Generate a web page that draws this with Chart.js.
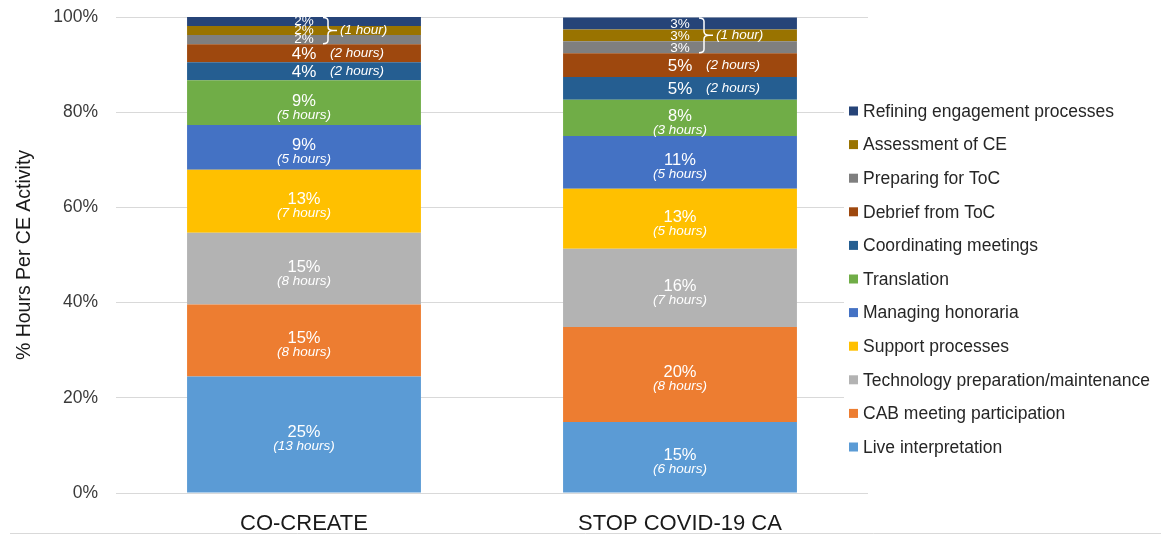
<!DOCTYPE html>
<html>
<head>
<meta charset="utf-8">
<script src="https://cdn.jsdelivr.net/npm/chart.js@4.4.1/dist/chart.umd.min.js"></script>
<style>
  html, body { margin: 0; padding: 0; background: #fff; }
  #wrap { width: 1171px; height: 542px; }
</style>
</head>
<body>
<div id="wrap"><canvas id="ce-chart" width="1171" height="542"></canvas></div>
<script>
// categories on the x axis
const categories = ['CO-CREATE', 'STOP COVID-19 CA'];

// activities, bottom of the stack first
const activities = [
  'Live interpretation',
  'CAB meeting participation',
  'Technology preparation/maintenance',
  'Support processes',
  'Managing honoraria',
  'Translation',
  'Coordinating meetings',
  'Debrief from ToC',
  'Preparing for ToC',
  'Assessment of CE',
  'Refining engagement processes'
];

// share of hours (%)
const coCreateShare = [24.5, 15.1, 15.1, 13.2, 9.4, 9.4, 3.8, 3.8, 1.9, 1.9, 1.9];
const stopCovidShare = [14.9, 20.0, 16.4, 12.6, 11.1, 7.6, 4.8, 5.0, 2.5, 2.5, 2.5];

// printed labels
const coCreateLabels = ['25%', '15%', '15%', '13%', '9%', '9%', '4%', '4%', '2%', '2%', '2%'];
const stopCovidLabels = ['15%', '20%', '16%', '13%', '11%', '8%', '5%', '5%', '3%', '3%', '3%'];
const coCreateHours = ['13 hours', '8 hours', '8 hours', '7 hours', '5 hours', '5 hours', '2 hours', '2 hours', '1 hour', '1 hour', '1 hour'];
const stopCovidHours = ['6 hours', '8 hours', '7 hours', '5 hours', '5 hours', '3 hours', '2 hours', '2 hours', '1 hour', '1 hour', '1 hour'];

const yTicks = [0, 20, 40, 60, 80, 100];

const colors = ['#5B9BD5', '#ED7D31', '#B3B3B3', '#FFC000', '#4472C4', '#70AD47',
                '#255E91', '#9E480E', '#7F7F7F', '#997300', '#264478'];

const FONT = '"Liberation Sans", Arial, sans-serif';

const pctLists = [coCreateLabels, stopCovidLabels];
const hourLists = [coCreateHours, stopCovidHours];

// white labels inside the segments
const segmentLabels = {
  id: 'segmentLabels',
  afterDatasetsDraw(chart) {
    const ctx = chart.ctx;
    ctx.save();
    ctx.fillStyle = '#fff';
    ctx.strokeStyle = '#fff';
    const groups = categories.map(() => null);
    chart.data.datasets.forEach((ds, i) => {
      const meta = chart.getDatasetMeta(i);
      meta.data.forEach((bar, j) => {
        const top = bar.y, bottom = bar.base;
        const h = bottom - top, c = (top + bottom) / 2;
        const pct = pctLists[j][i];
        const hrs = '(' + hourLists[j][i] + ')';
        if (h > 30) {
          ctx.textAlign = 'center';
          ctx.textBaseline = 'alphabetic';
          ctx.font = '16.5px ' + FONT;
          ctx.fillText(pct, bar.x, c + 3);
          ctx.font = 'italic 13.5px ' + FONT;
          ctx.fillText(hrs, bar.x, c + 16);
        } else if (h > 15) {
          ctx.textAlign = 'center';
          ctx.textBaseline = 'alphabetic';
          ctx.font = '17px ' + FONT;
          ctx.fillText(pct, bar.x, c + 6);
          ctx.textAlign = 'left';
          ctx.font = 'italic 13.5px ' + FONT;
          ctx.fillText(hrs, bar.x + 26, c + 4);
        } else {
          ctx.textAlign = 'center';
          ctx.textBaseline = 'alphabetic';
          ctx.font = '13.5px ' + FONT;
          ctx.fillText(pct, bar.x, bottom - 1);
          const g = groups[j];
          if (!g) groups[j] = {x: bar.x, top: top, bottom: bottom, text: hrs};
          else { g.top = Math.min(g.top, top); g.bottom = Math.max(g.bottom, bottom); }
        }
      });
    });
    // brace + shared hours text for the thin top segments
    groups.forEach(g => {
      if (!g) return;
      const x0 = g.x + 19, w = 10, r = 4;
      const mid = (g.top + g.bottom) / 2;
      ctx.lineWidth = 1.5;
      ctx.beginPath();
      ctx.moveTo(x0, g.top + 0.5);
      ctx.quadraticCurveTo(x0 + w / 2, g.top + 0.5, x0 + w / 2, g.top + r);
      ctx.lineTo(x0 + w / 2, mid - r);
      ctx.quadraticCurveTo(x0 + w / 2, mid, x0 + w, mid);
      ctx.quadraticCurveTo(x0 + w / 2, mid, x0 + w / 2, mid + r);
      ctx.lineTo(x0 + w / 2, g.bottom - r);
      ctx.quadraticCurveTo(x0 + w / 2, g.bottom - 0.5, x0, g.bottom - 0.5);
      ctx.moveTo(x0 + w, mid);
      ctx.lineTo(x0 + w + 4, mid);
      ctx.stroke();
      ctx.textAlign = 'left';
      ctx.textBaseline = 'middle';
      ctx.font = 'italic 13.5px ' + FONT;
      ctx.fillText(g.text, x0 + w + 7, mid);
    });
    ctx.restore();
  }
};

// legend on the right, top item = top of the stack
const sideLegend = {
  id: 'sideLegend',
  beforeDraw(chart) {
    const ctx = chart.ctx;
    ctx.save();
    ctx.strokeStyle = '#d9d9d9';
    ctx.lineWidth = 1;
    ctx.beginPath();
    ctx.moveTo(10, 533.5);
    ctx.lineTo(1161, 533.5);
    ctx.stroke();
    ctx.restore();
  },
  afterDraw(chart) {
    const ctx = chart.ctx;
    const area = chart.chartArea;
    const boxX = area.right - 19, firstY = 111, step = 33.6;
    ctx.save();
    ctx.fillStyle = '#fff';
    ctx.fillRect(boxX - 5, firstY - 18, chart.width - boxX + 5, step * 10 + 36);
    const sets = chart.data.datasets;
    ctx.font = '17.5px ' + FONT;
    ctx.textAlign = 'left';
    ctx.textBaseline = 'middle';
    for (let k = 0; k < sets.length; k++) {
      const ds = sets[sets.length - 1 - k];
      const y = firstY + k * step;
      ctx.fillStyle = ds.backgroundColor;
      ctx.fillRect(boxX, y - 4.5, 9, 9);
      ctx.fillStyle = '#262626';
      ctx.fillText(ds.label, boxX + 14, y + 1);
    }
    ctx.restore();
  }
};

new Chart(document.getElementById('ce-chart'), {
  type: 'bar',
  data: {
    labels: categories,
    datasets: activities.map((name, i) => ({
      label: name,
      data: [coCreateShare[i], stopCovidShare[i]],
      backgroundColor: colors[i],
      borderWidth: 0,
      barPercentage: 0.622,
      categoryPercentage: 1
    }))
  },
  options: {
    responsive: false,
    animation: false,
    devicePixelRatio: 1,
    layout: { padding: { top: 17, right: 303, bottom: 0, left: 0 } },
    plugins: {
      legend: { display: false },
      tooltip: { enabled: false }
    },
    scales: {
      x: {
        stacked: true,
        grid: { display: false, drawTicks: false },
        border: { display: false },
        ticks: { color: '#1a1a1a', font: { family: FONT, size: 22 }, padding: 18 },
        afterFit(scale) { scale.height = 49; }
      },
      y: {
        stacked: true,
        min: 0,
        max: 100,
        afterBuildTicks(scale) { scale.ticks = yTicks.map(v => ({ value: v })); },
        ticks: {
          color: '#3a3a3a',
          font: { family: FONT, size: 17.5 },
          padding: 18,
          callback: v => v + '%'
        },
        grid: { color: '#d9d9d9', lineWidth: 1, drawTicks: false },
        border: { display: false },
        title: {
          display: true,
          text: '% Hours Per CE Activity',
          color: '#1a1a1a',
          font: { family: FONT, size: 19.5 },
          padding: { top: 13, bottom: 0 }
        },
        afterFit(scale) {
          scale.width = 116;
          scale.paddingTop = 0;
          scale.paddingBottom = 0;
        }
      }
    }
  },
  plugins: [segmentLabels, sideLegend]
});
</script>
</body>
</html>
